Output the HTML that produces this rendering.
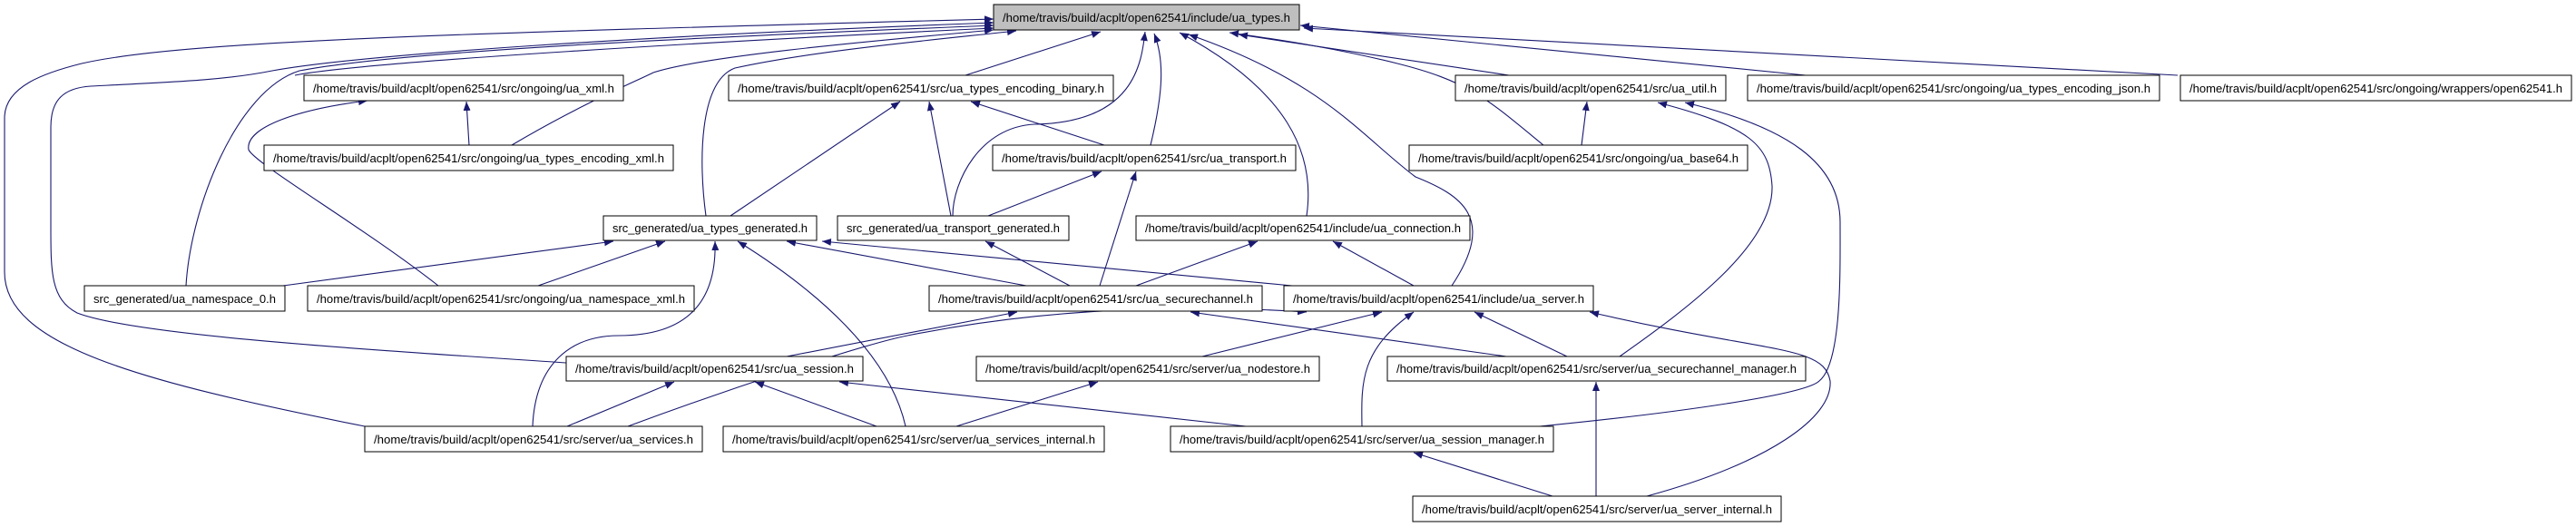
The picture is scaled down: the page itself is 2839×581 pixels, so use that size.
<!DOCTYPE html>
<html><head><meta charset="utf-8"><style>
html,body{margin:0;padding:0;background:#fff;}
svg{display:block;}
text{font-family:"Liberation Sans",sans-serif;font-size:13px;fill:#000;}
.e{fill:none;stroke:#191970;stroke-width:1.1;marker-end:url(#a);}
.n{fill:#fff;stroke:#000;stroke-width:1;}
</style></head><body>
<svg width="2839" height="581" viewBox="0 0 2839 581" xmlns="http://www.w3.org/2000/svg">
<defs><marker id="a" viewBox="0 0 10 8" refX="10" refY="4" markerWidth="10" markerHeight="8" markerUnits="userSpaceOnUse" orient="auto"><path d="M0,0 L10,4 L0,8 z" fill="#191970"/></marker></defs>

<!-- edges into ua_types.h -->
<path class="e" d="M402,470 C150,420 5,380 5,300 L5,130 C5,95 50,80 90,70 C200,45 500,37 1095,21"/>
<path class="e" d="M624,400 C400,385 150,370 85,345 C56,330 56,300 56,250 L56,140 C56,110 70,97 100,95 C200,90 250,88 300,78 C400,60 700,40 1095,25"/>
<path class="e" d="M205,315 C210,230 260,100 330,78 C450,55 800,40 1095,28"/>
<path class="e" d="M325,83 C400,68 800,45 1095,31"/>
<path class="e" d="M564,160 C640,115 700,90 720,80 C780,60 1000,42 1095,33"/>
<path class="e" d="M778,238 C770,180 770,90 810,75 C900,55 1050,42 1120,34"/>
<path class="e" d="M1064,83 L1213,35"/>
<path class="e" d="M1050,238 C1050,200 1080,140 1140,137 C1250,135 1258,70 1262,35"/>
<path class="e" d="M1268,160 C1280,110 1285,70 1272,37"/>
<path class="e" d="M1440,238 C1450,170 1420,100 1300,36"/>
<path class="e" d="M1600,315 C1650,240 1610,215 1560,195 C1500,150 1460,90 1310,38"/>
<path class="e" d="M1701,160 C1640,110 1620,90 1540,70 C1480,55 1420,45 1355,36"/>
<path class="e" d="M1663,83 L1365,38"/>
<path class="e" d="M1990,83 L1433,28"/>
<path class="e" d="M2400,83 L1437,31"/>

<!-- other edges -->
<path class="e" d="M517,160 L514,112"/>
<path class="e" d="M483,315 C400,250 280,180 274,165 C270,140 330,120 405,111"/>
<path class="e" d="M805,238 L992,112"/>
<path class="e" d="M1048,238 L1024,112"/>
<path class="e" d="M1217,160 L1070,112"/>
<path class="e" d="M1089,238 L1214,189"/>
<path class="e" d="M1212,315 L1252,189"/>
<path class="e" d="M1743,160 L1749,112"/>
<path class="e" d="M1785,393 C1860,340 1955,270 1953,205 C1950,160 1930,140 1827,113"/>
<path class="e" d="M1697,470 C1850,455 1990,435 2005,420 C2030,400 2028,300 2028,245 C2028,180 1970,140 1857,113"/>
<path class="e" d="M1815,547 C1950,510 2020,460 2017,420 C2010,380 1950,390 1752,344"/>
<path class="e" d="M312,315 L676,266"/>
<path class="e" d="M593,315 L733,266"/>
<path class="e" d="M587,470 C590,400 630,370 682,370 C760,370 790,330 788,266"/>
<path class="e" d="M998,470 C980,390 900,320 813,266"/>
<path class="e" d="M1131,315 L867,266"/>
<path class="e" d="M1424,315 L906,266"/>
<path class="e" d="M1179,315 L1086,266"/>
<path class="e" d="M1252,315 L1386,266"/>
<path class="e" d="M1558,315 L1469,266"/>
<path class="e" d="M867,393 L1121,344"/>
<path class="e" d="M1660,393 L1312,344"/>
<path class="e" d="M692,470 C800,430 950,380 1000,370 C1150,340 1300,335 1440,344"/>
<path class="e" d="M1325,393 L1523,344"/>
<path class="e" d="M1501,470 C1500,420 1500,385 1558,344"/>
<path class="e" d="M1727,393 L1625,344"/>
<path class="e" d="M625,470 L743,421"/>
<path class="e" d="M966,470 L832,421"/>
<path class="e" d="M1373,470 L925,421"/>
<path class="e" d="M1054,470 L1210,421"/>
<path class="e" d="M1711,547 L1558,499"/>
<path class="e" d="M1759,547 L1759,421"/>

<!-- nodes -->
<rect x="1095" y="5" width="337" height="28" fill="#bfbfbf" stroke="#000"/>
<text x="1105" y="24" textLength="317" lengthAdjust="spacingAndGlyphs">/home/travis/build/acplt/open62541/include/ua_types.h</text>

<rect class="n" x="335" y="83" width="352" height="28"/><text x="345" y="102" textLength="332" lengthAdjust="spacingAndGlyphs">/home/travis/build/acplt/open62541/src/ongoing/ua_xml.h</text>
<rect class="n" x="803" y="83" width="424" height="28"/><text x="813" y="102" textLength="404" lengthAdjust="spacingAndGlyphs">/home/travis/build/acplt/open62541/src/ua_types_encoding_binary.h</text>
<rect class="n" x="1604" y="83" width="298" height="28"/><text x="1614" y="102" textLength="278" lengthAdjust="spacingAndGlyphs">/home/travis/build/acplt/open62541/src/ua_util.h</text>
<rect class="n" x="1926" y="83" width="454" height="28"/><text x="1936" y="102" textLength="434" lengthAdjust="spacingAndGlyphs">/home/travis/build/acplt/open62541/src/ongoing/ua_types_encoding_json.h</text>
<rect class="n" x="2403" y="83" width="431" height="28"/><text x="2413" y="102" textLength="411" lengthAdjust="spacingAndGlyphs">/home/travis/build/acplt/open62541/src/ongoing/wrappers/open62541.h</text>

<rect class="n" x="291" y="160" width="451" height="28"/><text x="301" y="179" textLength="431" lengthAdjust="spacingAndGlyphs">/home/travis/build/acplt/open62541/src/ongoing/ua_types_encoding_xml.h</text>
<rect class="n" x="1094" y="160" width="334" height="28"/><text x="1104" y="179" textLength="314" lengthAdjust="spacingAndGlyphs">/home/travis/build/acplt/open62541/src/ua_transport.h</text>
<rect class="n" x="1553" y="160" width="373" height="28"/><text x="1563" y="179" textLength="353" lengthAdjust="spacingAndGlyphs">/home/travis/build/acplt/open62541/src/ongoing/ua_base64.h</text>

<rect class="n" x="665" y="238" width="235" height="27"/><text x="675" y="256" textLength="215" lengthAdjust="spacingAndGlyphs">src_generated/ua_types_generated.h</text>
<rect class="n" x="923" y="238" width="255" height="27"/><text x="933" y="256" textLength="235" lengthAdjust="spacingAndGlyphs">src_generated/ua_transport_generated.h</text>
<rect class="n" x="1252" y="238" width="368" height="27"/><text x="1262" y="256" textLength="348" lengthAdjust="spacingAndGlyphs">/home/travis/build/acplt/open62541/include/ua_connection.h</text>

<rect class="n" x="93" y="315" width="221" height="28"/><text x="103" y="334" textLength="201" lengthAdjust="spacingAndGlyphs">src_generated/ua_namespace_0.h</text>
<rect class="n" x="339" y="315" width="426" height="28"/><text x="349" y="334" textLength="406" lengthAdjust="spacingAndGlyphs">/home/travis/build/acplt/open62541/src/ongoing/ua_namespace_xml.h</text>
<rect class="n" x="1024" y="315" width="367" height="28"/><text x="1034" y="334" textLength="347" lengthAdjust="spacingAndGlyphs">/home/travis/build/acplt/open62541/src/ua_securechannel.h</text>
<rect class="n" x="1415" y="315" width="341" height="28"/><text x="1425" y="334" textLength="321" lengthAdjust="spacingAndGlyphs">/home/travis/build/acplt/open62541/include/ua_server.h</text>

<rect class="n" x="624" y="393" width="327" height="27"/><text x="634" y="411" textLength="307" lengthAdjust="spacingAndGlyphs">/home/travis/build/acplt/open62541/src/ua_session.h</text>
<rect class="n" x="1076" y="393" width="378" height="27"/><text x="1086" y="411" textLength="358" lengthAdjust="spacingAndGlyphs">/home/travis/build/acplt/open62541/src/server/ua_nodestore.h</text>
<rect class="n" x="1529" y="393" width="461" height="27"/><text x="1539" y="411" textLength="441" lengthAdjust="spacingAndGlyphs">/home/travis/build/acplt/open62541/src/server/ua_securechannel_manager.h</text>

<rect class="n" x="402" y="470" width="372" height="28"/><text x="412" y="489" textLength="352" lengthAdjust="spacingAndGlyphs">/home/travis/build/acplt/open62541/src/server/ua_services.h</text>
<rect class="n" x="797" y="470" width="420" height="28"/><text x="807" y="489" textLength="400" lengthAdjust="spacingAndGlyphs">/home/travis/build/acplt/open62541/src/server/ua_services_internal.h</text>
<rect class="n" x="1290" y="470" width="422" height="28"/><text x="1300" y="489" textLength="402" lengthAdjust="spacingAndGlyphs">/home/travis/build/acplt/open62541/src/server/ua_session_manager.h</text>

<rect class="n" x="1557" y="547" width="406" height="28"/><text x="1567" y="566" textLength="386" lengthAdjust="spacingAndGlyphs">/home/travis/build/acplt/open62541/src/server/ua_server_internal.h</text>
</svg>
</body></html>
